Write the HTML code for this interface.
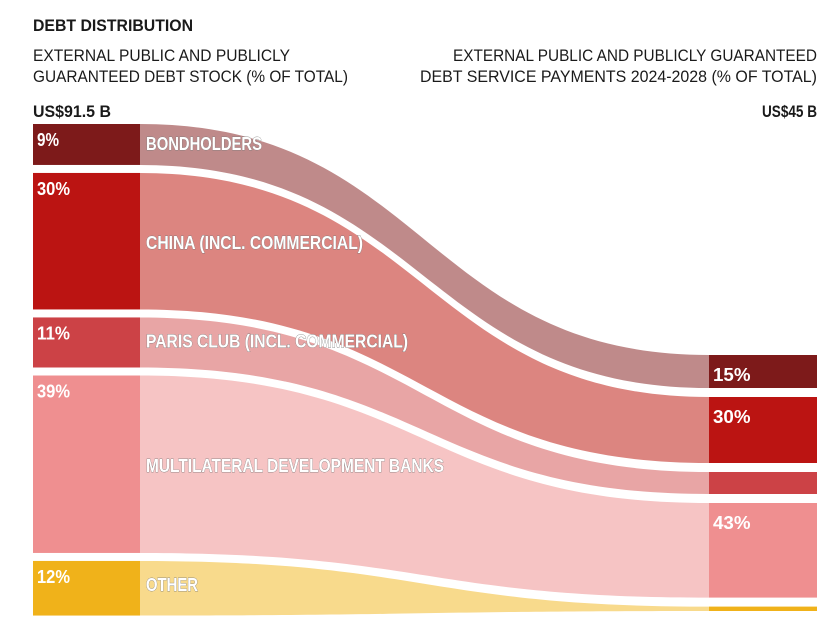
<!DOCTYPE html>
<html><head><meta charset="utf-8"><style>
html,body{margin:0;padding:0;background:#fff;}
svg{display:block;font-family:"Liberation Sans Narrow","Liberation Sans",sans-serif;}
.lbl{fill:#fff;font-weight:bold;font-size:18px;stroke:#7a7a7a;stroke-width:0.7px;paint-order:stroke;}
.pct{fill:#fff;font-weight:bold;font-size:18px;}
.t{fill:#1a1a1a;font-size:17px;}
</style></head><body>
<svg id="chart" width="819" height="635" viewBox="0 0 819 635">
<text x="33" y="31" class="t" font-weight="bold" textLength="160" lengthAdjust="spacingAndGlyphs">DEBT DISTRIBUTION</text>
<text x="33" y="61" class="t" textLength="257" lengthAdjust="spacingAndGlyphs">EXTERNAL PUBLIC AND PUBLICLY</text>
<text x="33" y="82" class="t" textLength="315" lengthAdjust="spacingAndGlyphs">GUARANTEED DEBT STOCK (% OF TOTAL)</text>
<text x="817" y="61" class="t" text-anchor="end" textLength="364" lengthAdjust="spacingAndGlyphs">EXTERNAL PUBLIC AND PUBLICLY GUARANTEED</text>
<text x="817" y="82" class="t" text-anchor="end" textLength="397" lengthAdjust="spacingAndGlyphs">DEBT SERVICE PAYMENTS 2024-2028 (% OF TOTAL)</text>
<text x="33" y="117" class="t" font-weight="bold" textLength="78" lengthAdjust="spacingAndGlyphs">US$91.5 B</text>
<text x="817" y="117" class="t" font-weight="bold" text-anchor="end" textLength="55" lengthAdjust="spacingAndGlyphs">US$45 B</text>
<g id="flows"></g><g id="bars"></g><g id="labels"></g>
</svg>
<script>
const categories=["BONDHOLDERS","CHINA (INCL. COMMERCIAL)","PARIS CLUB (INCL. COMMERCIAL)","MULTILATERAL DEVELOPMENT BANKS","OTHER"];
const stockValues=[9,30,11,39,12];
const serviceValues=[15,30,10,43,2];
const stockLabels=["9%","30%","11%","39%","12%"];
const serviceLabels=["15%","30%","","43%",""];
const barColors=["#7d1a1a","#bb1412","#cc4246","#ef8f90","#f0b21a"];
const flowColors=["#bf8a8a","#dc8580","#e8a5a5","#f6c4c4","#f8da8c"];
const labelWidths=[116,217,262,298,52];
const NS="http://www.w3.org/2000/svg";
const L={x0:33,x1:140,top:124,scale:4.55,gap:8};
const R={x0:709,x1:817,top:355,scale:2.2,gap:9};
function pos(vals,s){let y=s.top;return vals.map(v=>{const a=y,h=v*s.scale;y+=h+s.gap;return [a,a+h];});}
const lp=pos(stockValues,L), rp=pos(serviceValues,R);
const fg=document.getElementById('flows'),bg=document.getElementById('bars'),lg=document.getElementById('labels');
function mk(t,a,p){const e=document.createElementNS(NS,t);for(const k in a)e.setAttribute(k,a[k]);p.appendChild(e);return e;}
categories.forEach((c,i)=>{
 const [a1,b1]=lp[i],[a2,b2]=rp[i];const x1=L.x1,x2=R.x0,m=(x1+x2)/2;
 const f=mk('path',{d:`M${x1},${a1} C${m},${a1} ${m},${a2} ${x2},${a2} L${x2},${b2} C${m},${b2} ${m},${b1} ${x1},${b1} Z`,fill:flowColors[i]},fg);
 
 
 const r1=mk('rect',{x:L.x0,y:a1,width:L.x1-L.x0,height:b1-a1,fill:barColors[i]},bg);
 
 
 const r2=mk('rect',{x:R.x0,y:a2,width:R.x1-R.x0,height:Math.max(b2-a2,3),fill:barColors[i]},bg);
 
 
 const p1=mk('text',{x:L.x0+4,y:a1+22,class:'pct',textLength:stockLabels[i].length*11,lengthAdjust:'spacingAndGlyphs'},lg);p1.textContent=stockLabels[i];
 
 
 if(serviceLabels[i]){const p2=mk('text',{x:R.x0+4,y:a2+26,class:'pct',textLength:serviceLabels[i].length*12.5,lengthAdjust:'spacingAndGlyphs'},lg);p2.textContent=serviceLabels[i];
 
 }
 const ly=i===0?a1+26:(i===4?a1+30:(i===2?a1+30:(a1+b1)/2+8));
 const t=mk('text',{x:146,y:ly,class:'lbl',textLength:labelWidths[i],lengthAdjust:'spacingAndGlyphs'},lg);t.textContent=c;
 
 
});
</script>
</body></html>
